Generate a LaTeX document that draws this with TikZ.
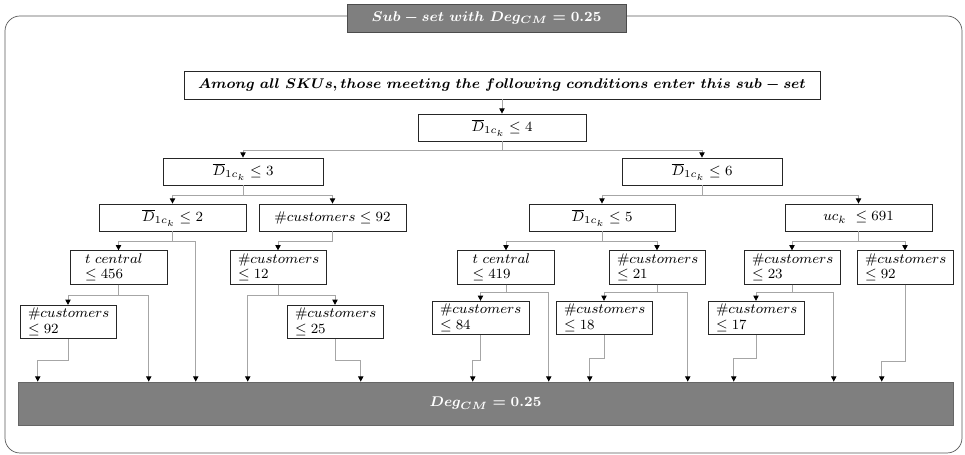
\documentclass[tikz,border=0pt]{standalone}
\usepackage{amsfonts}
\usepackage{amssymb}
\usepackage{amsmath}
\usetikzlibrary{arrows.meta}

\definecolor{boxgray}{HTML}{7F7F7F}
\definecolor{linkgray}{HTML}{A6A6A6}

\tikzset{
  cond/.style={draw=black!85, fill=white, thin, inner xsep=0.1cm, inner ysep=1pt,
    minimum height=0.54cm, font=\fontsize{8}{8.8}\selectfont},
  cond2/.style={cond, align=left, inner xsep=0.16cm, text width=#1, minimum height=0.67cm},
  tcond/.style={cond2=1.34cm, inner xsep=0.3cm},
  dark/.style={draw=black!70, fill=boxgray, text=white, font=\fontsize{8.5}{10}\selectfont\boldmath},
  link/.style={draw=linkgray, line width=0.5pt, -{Triangle[color=black,length=3pt,width=3pt]}}
}

\begin{document}
\begin{tikzpicture}[x=0.02cm,y=-0.02cm]
	\useasboundingbox (0,0) rectangle (965,455);
	\draw[black!65, rounded corners=0.3cm] (5,16) rectangle (962,453); % frame
	\node[dark, minimum width=5.58cm, minimum height=0.56cm] (title) at (486.5,18)
	{$Sub - set\ with\ Deg_{CM} = 0.25$};
	\node[cond, minimum width=12.72cm, minimum height=0.56cm, font=\fontsize{8.5}{10}\selectfont\boldmath] (top) at (502,85)
	{$Among\ all\ SKUs,those\ meeting\ the\ following\ conditions\ enter\ this\ sub - set$};
	% the conditions
	\node[cond, minimum width=3.36cm] (d4) at (502,127.5) {$\overline{D}_{1c_k} \leq 4$};
	\node[cond, minimum width=3.2cm] (d3) at (243,171.5) {$\overline{D}_{1c_k} \leq 3$};
	\node[cond, minimum width=3.2cm] (d6) at (702,171.5) {$\overline{D}_{1c_k} \leq 6$};
	\node[cond, minimum width=2.94cm] (d2) at (172.5,217.5) {$\overline{D}_{1c_k} \leq 2$};
	\node[cond, minimum width=2.94cm] (c92a) at (332.5,217.5) {$\#customers \leq 92$};
	\node[cond, minimum width=2.92cm] (d5) at (602,217.5) {$\overline{D}_{1c_k} \leq 5$};
	\node[cond, minimum width=2.94cm] (uc) at (858.5,217.5) {$uc_k\ \leq 691$};
	\node[tcond] (tc456) at (118.5,267.5) {$t\ central$\\$\leq 456$};
	\node[cond2=1.6cm] (c12) at (278,267.5) {$\#customers$\\$\leq 12$};
	\node[tcond] (tc419) at (506,267.5) {$t\ central$\\$\leq 419$};
	\node[cond2=1.6cm] (c21) at (657,267.5) {$\#customers$\\$\leq 21$};
	\node[cond2=1.6cm] (c23) at (792,267.5) {$\#customers$\\$\leq 23$};
	\node[cond2=1.6cm] (c92b) at (905,267.5) {$\#customers$\\$\leq 92$};
	\node[cond2=1.6cm] (c92c) at (68,322) {$\#customers$\\$\leq 92$};
	\node[cond2=1.6cm] (c25) at (335,322) {$\#customers$\\$\leq 25$};
	\node[cond2=1.62cm] (c84) at (480.5,318) {$\#customers$\\$\leq 84$};
	\node[cond2=1.6cm] (c18) at (604,318) {$\#customers$\\$\leq 18$};
	\node[cond2=1.6cm] (c17) at (756,318) {$\#customers$\\$\leq 17$};
	\node[dark, draw=black!60, minimum width=18.7cm, minimum height=0.86cm] (deg) at (485.5,403.5)
	{$Deg_{CM} = 0.25$};
	% entry points on the result bar
	\foreach \x [count=\i] in {38,149,196,248,361,473,549,590,688,734,834,882}
	\path (deg.north west) ++(\x-18,0) coordinate (in\i);
	\draw[link] (top) -- (d4);
	\foreach \a/\b/\d in {d4/d3.north/9, d4/d6.north/9, d3/d2.north/10, d3/c92a.north/10,
		d6/d5.north/10, d6/uc.north/10, d2/tc456.north/10, d2/in3/10, c92a/c12.north/10,
		d5/tc419.north/10, d5/c21.north/10, uc/c23.north/10, uc/c92b.north/10,
		tc456/c92c.north/11, tc456/in2/11, c12/in4/11, c12/c25.north/11,
		tc419/c84.north/8, tc419/in7/8, c21/c18.north/8, c21/in9/8,
		c23/c17.north/8, c23/in11/8, c92c/in1/21, c25/in5/21, c84/in6/25,
		c18/in8/23, c17/in10/23, c92b/in12/77}
	\draw[link] (\a.south) -- ++(0,\d) -| (\b);
\end{tikzpicture}
\end{document}
